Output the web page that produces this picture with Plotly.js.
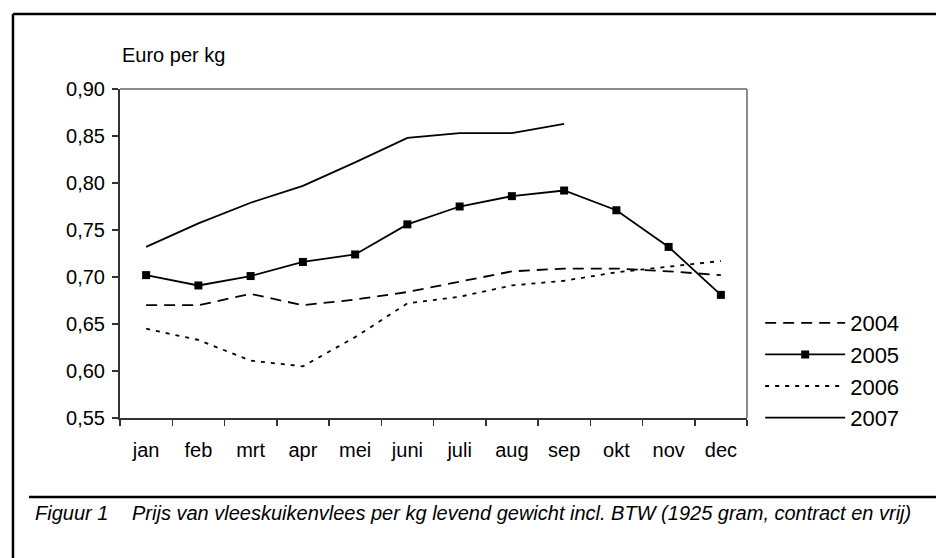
<!DOCTYPE html>
<html>
<head>
<meta charset="utf-8">
<script src="https://cdn.plot.ly/plotly-3.0.1.min.js"></script>
<style>html,body{margin:0;padding:0;background:#fff;}#chart{width:936px;height:558px;}</style>
</head>
<body>
<div id="chart"></div>
<script>
var months = ["jan","feb","mrt","apr","mei","juni","juli","aug","sep","okt","nov","dec"];
var y2004 = [0.670,0.670,0.682,0.670,0.676,0.684,0.695,0.706,0.709,0.709,0.706,0.702];
var y2005 = [0.702,0.691,0.701,0.716,0.724,0.756,0.775,0.786,0.792,0.771,0.732,0.681];
var y2006 = [0.645,0.633,0.611,0.605,0.636,0.672,0.679,0.691,0.696,0.705,0.711,0.717];
var y2007 = [0.732,0.757,0.779,0.797,0.822,0.848,0.853,0.853,0.863,null,null,null];
var seriesNames = ["2004","2005","2006","2007"];
var yTitle = "Euro per kg";
var captionLabel = "Figuur 1";
var captionText = "Prijs van vleeskuikenvlees per kg levend gewicht incl. BTW (1925 gram, contract en vrij)";

var FONT = "Liberation Sans, Arial, sans-serif";
var traces = [
  {x: months, y: y2004, name: seriesNames[0], mode: "lines", line: {color: "#000", width: 1.8, dash: "11px,7px"}},
  {x: months, y: y2005, name: seriesNames[1], mode: "lines+markers", line: {color: "#000", width: 1.8}, marker: {symbol: "square", size: 8, color: "#000"}},
  {x: months, y: y2006, name: seriesNames[2], mode: "lines", line: {color: "#000", width: 1.8, dash: "4px,6px"}},
  {x: months, y: y2007, name: seriesNames[3], mode: "lines", line: {color: "#000", width: 1.8}, connectgaps: false}
];

var layout = {
  width: 936, height: 558,
  margin: {l: 120, r: 189, t: 89, b: 140},
  paper_bgcolor: "#fff", plot_bgcolor: "#fff",
  separators: ",.",
  font: {family: FONT, size: 20, color: "#000"},
  showlegend: true,
  legend: {
    x: 1.021, xanchor: "left", y: 0.3526, yanchor: "top",
    font: {family: FONT, size: 22, color: "#000"},
    itemwidth: 80, bgcolor: "rgba(0,0,0,0)", borderwidth: 0,
    tracegroupgap: 0
  },
  xaxis: {
    type: "category", range: [-0.5, 11.5], tickson: "boundaries",
    ticks: "outside", ticklen: 6, tickwidth: 1.5, tickcolor: "#333",
    showline: true, linecolor: "#333", linewidth: 2,
    showgrid: false, zeroline: false, ticklabelstandoff: 13,
    tickfont: {family: FONT, size: 20, color: "#000"}, fixedrange: true
  },
  yaxis: {
    range: [0.55, 0.90], tick0: 0.55, dtick: 0.05, tickformat: ".2f",
    ticks: "outside", ticklen: 6, tickwidth: 1.5, tickcolor: "#333",
    showline: true, linecolor: "#333", linewidth: 2,
    showgrid: false, zeroline: false, ticklabelstandoff: 3,
    tickfont: {family: FONT, size: 20, color: "#000"}, fixedrange: true
  },
  shapes: [
    {type: "line", xref: "paper", yref: "paper", x0: 0, x1: 1, y0: 1, y1: 1, line: {color: "#8c8c8c", width: 2}},
    {type: "line", xref: "paper", yref: "paper", x0: 1, x1: 1, y0: 0, y1: 1, line: {color: "#8c8c8c", width: 2}},
    {type: "line", xref: "paper", yref: "paper", x0: -0.1707, x1: -0.1707, y0: 1.228, y1: -0.46, line: {color: "#000", width: 2.5}},
    {type: "line", xref: "paper", yref: "paper", x0: -0.1707, x1: 1.33, y0: 1.228, y1: 1.228, line: {color: "#000", width: 2.5}},
    {type: "line", xref: "paper", yref: "paper", x0: -0.1451, x1: 1.33, y0: -0.2401, y1: -0.2401, line: {color: "#000", width: 2.5}}
  ],
  annotations: [
    {text: yTitle, xref: "paper", yref: "paper", x: 0, y: 1.1033, xanchor: "left", yanchor: "middle", showarrow: false, font: {family: FONT, size: 20, color: "#000"}},
    {text: "<i>" + captionLabel + "</i>", xref: "paper", yref: "paper", x: -0.1388, y: -0.2888, xanchor: "left", yanchor: "middle", showarrow: false, font: {family: FONT, size: 20, color: "#000"}},
    {text: "<i>" + captionText + "</i>", xref: "paper", yref: "paper", x: 0.01595, y: -0.2888, xanchor: "left", yanchor: "middle", showarrow: false, font: {family: FONT, size: 20, color: "#000"}}
  ]
};

Plotly.newPlot("chart", traces, layout, {staticPlot: true, displayModeBar: false});
</script>
</body>
</html>
